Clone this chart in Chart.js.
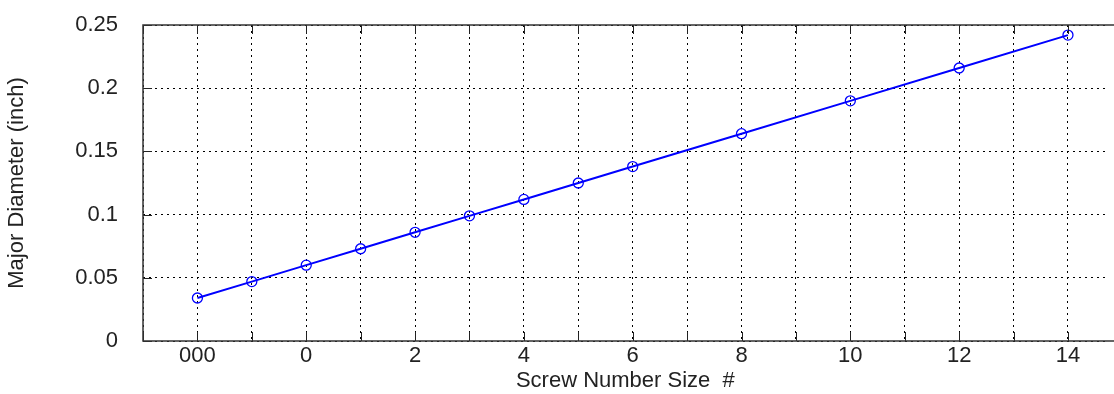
<!DOCTYPE html>
<html>
<head>
<meta charset="utf-8">
<script src="https://cdn.jsdelivr.net/npm/chart.js@4"></script>
<style>
  html, body { margin: 0; padding: 0; background: #fff; overflow: hidden; }
  #wrap { width: 1114px; height: 394px; }
</style>
</head>
<body>
<div id="wrap"><canvas id="screws"></canvas></div>
<script>
// screw sizes: 000 -> -2, 00 -> -1, then the plain numbers
const sizePos = [-2, -1, 0, 1, 2, 3, 4, 5, 6, 8, 10, 12, 14];
const majorDia = [0.034, 0.047, 0.060, 0.073, 0.086, 0.099, 0.112, 0.125, 0.138, 0.164, 0.190, 0.216, 0.242];
const xGrid = [-3, -2, -1, 0, 1, 2, 3, 4, 5, 6, 7, 8, 9, 10, 11, 12, 13, 14];
const xTickLabels = { "-2": "000", "0": "0", "2": "2", "4": "4", "6": "6", "8": "8", "10": "10", "12": "12", "14": "14" };
const yTicks = [0, 0.05, 0.1, 0.15, 0.2, 0.25];

const font = { family: "'Liberation Sans', Arial, sans-serif", size: 22 };
const ink = "#222";

// matlab-ish box with inward tick marks
const frame = {
  id: "frame",
  afterDraw(chart) {
    const { ctx, chartArea: a, scales } = chart;
    ctx.save();
    ctx.strokeStyle = ink;
    ctx.lineWidth = 1;
    xGrid.forEach(v => {
      const px = Math.round(scales.x.getPixelForValue(v)) + 0.5;
      ctx.beginPath();
      ctx.moveTo(px, a.bottom); ctx.lineTo(px, a.bottom - 9);
      ctx.moveTo(px, a.top); ctx.lineTo(px, a.top + 9);
      ctx.stroke();
    });
    yTicks.forEach(v => {
      const py = Math.round(scales.y.getPixelForValue(v)) + 0.5;
      ctx.beginPath();
      ctx.moveTo(a.left, py); ctx.lineTo(a.left + 9, py);
      ctx.stroke();
    });
    ctx.lineWidth = 1.5;
    ctx.strokeStyle = "#333";
    ctx.beginPath();
    ctx.moveTo(chart.width, a.top); ctx.lineTo(a.left, a.top);
    ctx.lineTo(a.left, a.bottom); ctx.lineTo(chart.width, a.bottom);
    ctx.stroke();
    ctx.restore();
  }
};

new Chart(document.getElementById("screws"), {
  type: "line",
  data: {
    datasets: [
      {
        data: sizePos.map((s, i) => ({ x: s, y: majorDia[i] })),
        borderColor: "#0000ff",
        borderWidth: 2,
        pointStyle: "circle",
        pointRadius: 5,
        pointBorderWidth: 1.3,
        pointBorderColor: "#0000ff",
        pointBackgroundColor: "rgba(0,0,0,0)",
        tension: 0,
      },
    ],
  },
  options: {
    responsive: true,
    maintainAspectRatio: false,
    animation: false,
    layout: { padding: { top: 25, right: 0, left: 0, bottom: 0 } },
    plugins: { legend: { display: false }, tooltip: { enabled: false } },
    scales: {
      x: {
        type: "linear",
        min: -3,
        max: 14.73,
        afterBuildTicks: s => { s.ticks = xGrid.map(v => ({ value: v })); },
        afterFit: s => {
          s.height = 53;
          s.paddingLeft = 0; s.paddingRight = 0;
        },
        ticks: {
          autoSkip: false,
          maxRotation: 0,
          padding: 2,
          color: ink,
          font: font,
          callback: v => xTickLabels[String(v)] || "",
        },
        grid: {
          drawTicks: false,
          color: "#000",
          lineWidth: 1,
        },
        border: { display: false, dash: [2, 4] },
        title: {
          display: true,
          text: "Screw Number Size  #",
          color: ink,
          font: font,
          padding: { top: 0, bottom: 0 },
        },
      },
      y: {
        min: 0,
        max: 0.25,
        afterBuildTicks: s => { s.ticks = yTicks.map(v => ({ value: v })); },
        afterFit: s => {
          s.width = 143;
          s.paddingTop = 0; s.paddingBottom = 0;
        },
        ticks: {
          padding: 25,
          color: ink,
          font: font,
          callback: v => String(+v.toFixed(2)),
        },
        grid: {
          drawTicks: false,
          color: "#000",
          lineWidth: 1,
        },
        border: { display: false, dash: [2, 4] },
        title: {
          display: true,
          text: "Major Diameter (inch)",
          color: ink,
          font: font,
          padding: { top: 4, bottom: 0 },
        },
      },
    },
  },
  plugins: [frame],
});
</script>
</body>
</html>
